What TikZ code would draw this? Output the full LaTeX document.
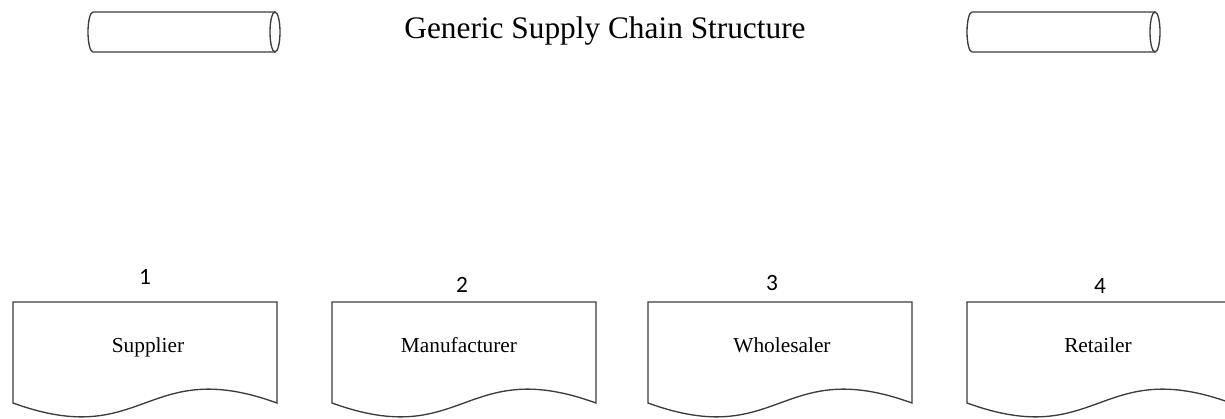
\documentclass[tikz,border=0pt]{standalone}
\usepackage{fontspec}
\setmainfont{Liberation Serif}
\newfontfamily\numfont{Carlito}

\tikzset{
  outline/.style={draw={rgb,255:red,60;green,60;blue,60},line width=1pt},
  stagelabel/.style={anchor=base,inner sep=0.75pt,font=\fontsize{16}{19}\selectfont},
  stagenum/.style={anchor=base,inner sep=0.75pt,font=\numfont\fontsize{17.5}{20}\selectfont}
}

\begin{document}
\begin{tikzpicture}[x=0.75pt,y=0.75pt,yscale=-1,xscale=1]
\path[use as bounding box] (0,0) rectangle (1225,418);
\clip (0,0) rectangle (1225,418);

%Shape: Can (left) 
\draw [outline] (93,12) -- (275,12) (93,52) -- (275,52)
  (93,12) .. controls (90.24,12) and (88,20.95) .. (88,32) .. controls (88,43.05) and (90.24,52) .. (93,52) ;
\draw [outline] (275,12) .. controls (277.76,12) and (280,20.95) .. (280,32) .. controls (280,43.05) and (277.76,52) .. (275,52) .. controls (272.24,52) and (270,43.05) .. (270,32) .. controls (270,20.95) and (272.24,12) .. (275,12) -- cycle ;
%Shape: Can (right) 
\draw [outline] (972,12) -- (1155,12) (972,52) -- (1155,52)
  (972,12) .. controls (969.24,12) and (967,20.95) .. (967,32) .. controls (967,43.05) and (969.24,52) .. (972,52) ;
\draw [outline] (1155,12) .. controls (1157.76,12) and (1160,20.95) .. (1160,32) .. controls (1160,43.05) and (1157.76,52) .. (1155,52) .. controls (1152.24,52) and (1150,43.05) .. (1150,32) .. controls (1150,20.95) and (1152.24,12) .. (1155,12) -- cycle ;

%Shape: Document [id:supplier] 
\draw [outline] (13,302) -- (277,302) -- (277,403) .. controls (145,355) and (145,451) .. (13,403) -- cycle ;
%Shape: Document [id:manufacturer] 
\draw [outline] (332,302) -- (596,302) -- (596,403) .. controls (464,355) and (464,451) .. (332,403) -- cycle ;
%Shape: Document [id:wholesaler] 
\draw [outline] (648,302) -- (912,302) -- (912,403) .. controls (780,355) and (780,451) .. (648,403) -- cycle ;
%Shape: Document [id:retailer] 
\draw [outline] (967,302) -- (1231,302) -- (1231,403) .. controls (1099,355) and (1099,451) .. (967,403) -- cycle ;

% Text Node
\node [inner sep=0.75pt,font=\fontsize{23.5}{28}\selectfont] (title) at (605,31) {Generic Supply Chain Structure};

% Text Node
\node [stagenum] (num1) at (145,284) {1};
\node [stagenum] (num2) at (462,292) {2};
\node [stagenum] (num3) at (772,290) {3};
\node [stagenum] (num4) at (1100,293) {4};

% Text Node
\node [stagelabel] (supplier) at (148,352) {Supplier};
\node [stagelabel] (manufacturer) at (459,352) {Manufacturer};
\node [stagelabel] (wholesaler) at (782,352) {Wholesaler};
\node [stagelabel] (retailer) at (1098,352) {Retailer};

\end{tikzpicture}
\end{document}
